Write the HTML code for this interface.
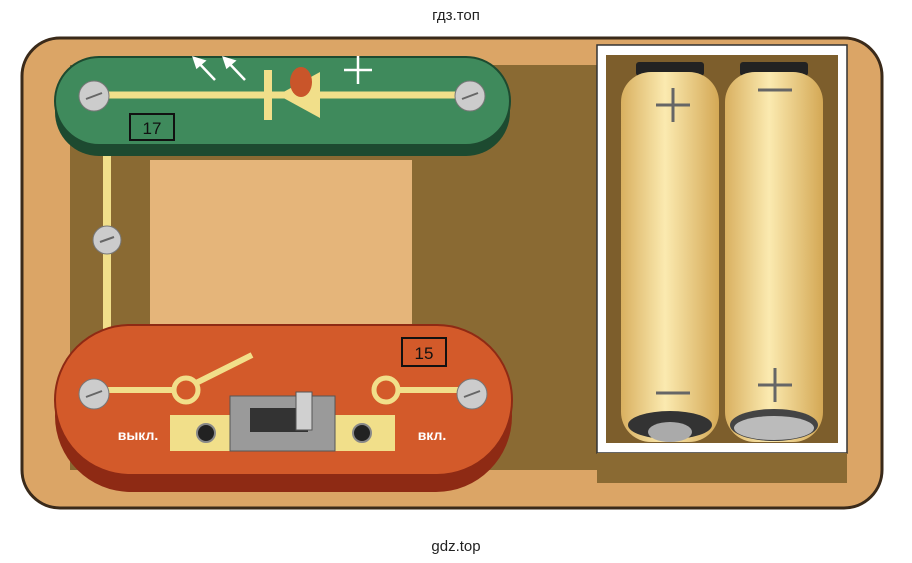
<!DOCTYPE html>
<html><head><meta charset="utf-8"><style>
html,body{margin:0;padding:0;background:#fff;}
svg{display:block}
text{font-family:"Liberation Sans",sans-serif}
</style></head><body>
<svg width="912" height="563" viewBox="0 0 912 563" xmlns="http://www.w3.org/2000/svg">
<defs>
<linearGradient id="bat" x1="0" x2="1" y1="0" y2="0">
<stop offset="0" stop-color="#d9b060"/><stop offset="0.45" stop-color="#fbeab0"/><stop offset="1" stop-color="#d4a855"/>
</linearGradient>
</defs>
<rect width="912" height="563" fill="#fff"/>
<text x="456" y="20" font-size="15" text-anchor="middle" fill="#222">гдз.топ</text>
<text x="456" y="551" font-size="15" text-anchor="middle" fill="#222">gdz.top</text>
<!-- board -->
<rect x="22" y="38" width="860" height="470" rx="38" fill="#dba566" stroke="#3a2a1a" stroke-width="3"/>
<!-- dark base -->
<rect x="70" y="65" width="530" height="405" fill="#8a6a33"/>
<rect x="150" y="160" width="262" height="168" fill="#e5b57a"/>
<!-- battery box -->
<rect x="597" y="45" width="250" height="408" fill="#fff" stroke="#333" stroke-width="1.5"/>
<rect x="606" y="55" width="232" height="388" fill="#7d5e2c"/>
<rect x="597" y="453" width="250" height="30" fill="#8a6a33"/>
<!-- batteries -->
<rect x="636" y="62" width="68" height="14" rx="3" fill="#222"/>
<rect x="740" y="62" width="68" height="14" rx="3" fill="#222"/>
<rect x="621" y="72" width="98" height="370" rx="30" fill="url(#bat)"/>
<rect x="725" y="72" width="98" height="370" rx="30" fill="url(#bat)"/>
<ellipse cx="670" cy="425" rx="42" ry="14" fill="#333"/>
<ellipse cx="670" cy="432" rx="22" ry="10" fill="#aaa"/>
<ellipse cx="774" cy="425" rx="44" ry="16" fill="#444"/>
<ellipse cx="774" cy="428" rx="40" ry="12" fill="#bbb"/>
<g stroke="#666" stroke-width="3">
<line x1="656" y1="105" x2="690" y2="105"/><line x1="673" y1="88" x2="673" y2="122"/>
<line x1="758" y1="90" x2="792" y2="90"/>
<line x1="656" y1="393" x2="690" y2="393"/>
<line x1="758" y1="385" x2="792" y2="385"/><line x1="775" y1="368" x2="775" y2="402"/>
</g>
<!-- left wire -->
<rect x="103" y="150" width="8" height="180" fill="#f1df8a"/>
<circle cx="107" cy="240" r="14" fill="#ccc" stroke="#777"/>
<line x1="100" y1="242" x2="114" y2="237" stroke="#666" stroke-width="2"/>
<!-- green module -->
<rect x="55" y="68" width="455" height="88" rx="44" fill="#1d4a30"/>
<rect x="55" y="57" width="455" height="88" rx="44" fill="#3f8a5c" stroke="#1d4a30" stroke-width="2"/>
<line x1="92" y1="95" x2="470" y2="95" stroke="#f1df8a" stroke-width="7"/>
<rect x="264" y="70" width="8" height="50" fill="#f1df8a"/>
<polygon points="278,95 320,72 320,118" fill="#f1df8a"/>
<ellipse cx="301" cy="82" rx="11" ry="15" fill="#c9552a"/>
<g stroke="#fff" stroke-width="2.5" fill="#fff">
<line x1="196" y1="60" x2="215" y2="80"/><polygon points="194,58 204,61 197,67"/>
<line x1="226" y1="60" x2="245" y2="80"/><polygon points="224,58 234,61 227,67"/>
<line x1="344" y1="70" x2="372" y2="70"/><line x1="358" y1="56" x2="358" y2="84"/>
</g>
<rect x="130" y="114" width="44" height="26" fill="none" stroke="#111" stroke-width="2"/>
<text x="152" y="134" font-size="17" text-anchor="middle" fill="#111">17</text>
<circle cx="94" cy="96" r="15" fill="#ccc" stroke="#777"/><line x1="86" y1="99" x2="102" y2="93" stroke="#666" stroke-width="2"/>
<circle cx="470" cy="96" r="15" fill="#ccc" stroke="#777"/><line x1="462" y1="99" x2="478" y2="93" stroke="#666" stroke-width="2"/>
<!-- orange module -->
<rect x="55" y="340" width="457" height="152" rx="76" fill="#8e2a14"/>
<rect x="55" y="325" width="457" height="150" rx="75" fill="#d35a2a" stroke="#8e2a14" stroke-width="2"/>
<line x1="92" y1="390" x2="175" y2="390" stroke="#f1df8a" stroke-width="6"/>
<line x1="400" y1="390" x2="470" y2="390" stroke="#f1df8a" stroke-width="6"/>
<circle cx="186" cy="390" r="12" fill="none" stroke="#f1df8a" stroke-width="5"/>
<circle cx="386" cy="390" r="12" fill="none" stroke="#f1df8a" stroke-width="5"/>
<line x1="196" y1="383" x2="252" y2="355" stroke="#f1df8a" stroke-width="6"/>
<rect x="170" y="415" width="60" height="36" fill="#f1df8a"/>
<rect x="335" y="415" width="60" height="36" fill="#f1df8a"/>
<circle cx="206" cy="433" r="9" fill="#222" stroke="#888" stroke-width="2"/>
<circle cx="362" cy="433" r="9" fill="#222" stroke="#888" stroke-width="2"/>
<rect x="230" y="396" width="105" height="55" fill="#9a9a9a" stroke="#555"/>
<rect x="250" y="408" width="58" height="24" fill="#333"/>
<rect x="296" y="392" width="16" height="38" fill="#d0d0d0" stroke="#555"/>
<text x="138" y="440" font-size="14" font-weight="bold" text-anchor="middle" fill="#fff">выкл.</text>
<text x="432" y="440" font-size="14" font-weight="bold" text-anchor="middle" fill="#fff">вкл.</text>
<rect x="402" y="338" width="44" height="28" fill="none" stroke="#111" stroke-width="2"/>
<text x="424" y="359" font-size="17" text-anchor="middle" fill="#111">15</text>
<circle cx="94" cy="394" r="15" fill="#ccc" stroke="#777"/><line x1="86" y1="397" x2="102" y2="391" stroke="#666" stroke-width="2"/>
<circle cx="472" cy="394" r="15" fill="#ccc" stroke="#777"/><line x1="464" y1="397" x2="480" y2="391" stroke="#666" stroke-width="2"/>
</svg>
</body></html>
